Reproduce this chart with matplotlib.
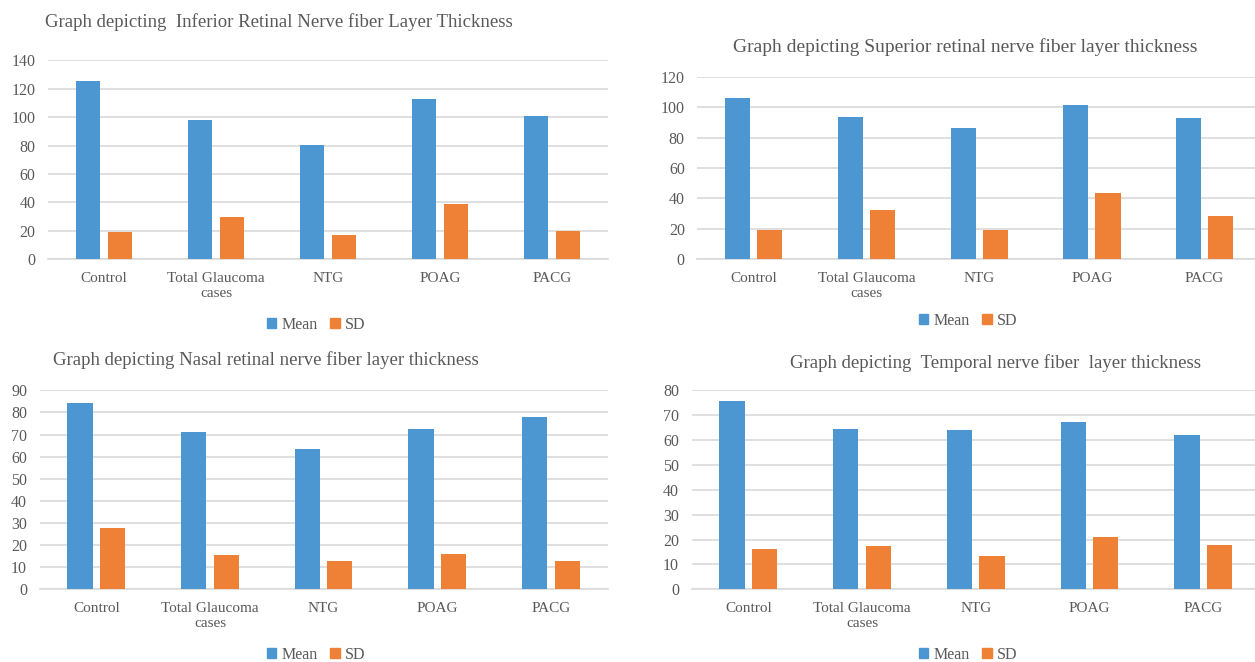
import matplotlib
matplotlib.use('Agg')
import matplotlib.pyplot as plt
from matplotlib.patches import Patch
import numpy as np

plt.rcParams['font.family'] = ['Liberation Serif', 'DejaVu Serif']

categories = ['Control', 'Total Glaucoma\ncases', 'NTG', 'POAG', 'PACG']

inferior_mean = [125.5, 98.3, 80.7, 112.9, 100.7]
inferior_sd = [19.2, 30.0, 16.9, 38.9, 20.2]

superior_mean = [105.8, 93.3, 86.3, 101.6, 92.6]
superior_sd = [19.0, 32.2, 19.0, 43.4, 28.4]

nasal_mean = [84.3, 71.1, 63.3, 72.6, 77.9]
nasal_sd = [27.9, 15.4, 12.9, 15.8, 12.9]

temporal_mean = [75.6, 64.4, 63.9, 67.1, 62.2]
temporal_sd = [16.3, 17.5, 13.3, 20.9, 17.9]

titles = ['Graph depicting  Inferior Retinal Nerve fiber Layer Thickness',
          'Graph depicting Superior retinal nerve fiber layer thickness',
          'Graph depicting Nasal retinal nerve fiber layer thickness',
          'Graph depicting  Temporal nerve fiber  layer thickness']

BLUE = '#4C96D2'
ORANGE = '#EF8137'
TXT = '#595959'
GRID = '#D9D9D9'

W, H = 1255, 662
fig = plt.figure(figsize=(W / 100, H / 100), dpi=100)

def px_axes(left, right, top, bottom):
    return fig.add_axes([left / W, 1 - bottom / H, (right - left) / W, (bottom - top) / H])

# (left, right, top, bottom), ymax, step, title pos, title align, title size, legend pos
panels = [
    ((48, 608, 60.3, 259.3), 140, 20, (45, 22), 'left', 13.5, (316, 325), inferior_mean, inferior_sd),
    ((697.3, 1261, 76.7, 259.3), 120, 20, (965, 47), 'center', 14, (968, 321), superior_mean, superior_sd),
    ((39.5, 607.7, 390.3, 589.3), 90, 10, (53, 360), 'left', 13.5, (316, 655), nasal_mean, nasal_sd),
    ((691.5, 1260, 390.3, 589.3), 80, 10, (995, 363), 'center', 13.5, (968, 655), temporal_mean, temporal_sd),
]

x = np.arange(len(categories))
bw = 0.222
off = 0.143

for i, (box, ymax, step, tpos, talign, tsize, lpos, mean, sd) in enumerate(panels):
    ax = px_axes(*box)
    ax.bar(x - off, mean, bw, color=BLUE, zorder=3, label='Mean')
    ax.bar(x + off, sd, bw, color=ORANGE, zorder=3, label='SD')
    ax.set_xlim(-0.5, len(categories) - 0.5)
    ax.set_ylim(0, ymax)
    ax.set_yticks(np.arange(0, ymax + 1, step))
    ax.set_xticks(x)
    ax.set_xticklabels(categories, linespacing=1.25, fontsize=11)
    ax.yaxis.grid(True, color=GRID, linewidth=1.2, zorder=0)
    for s in ['top', 'right', 'left']:
        ax.spines[s].set_visible(False)
    ax.spines['bottom'].set_color(GRID)
    ax.spines['bottom'].set_linewidth(1.2)
    ax.tick_params(axis='both', length=0, colors=TXT)
    ax.tick_params(axis='y', pad=9, labelsize=11.5)
    ax.tick_params(axis='x', pad=9)

    fig.text(tpos[0] / W, 1 - tpos[1] / H, titles[i], ha=talign, va='center',
             fontsize=tsize, color=TXT)

    handles = [Patch(color=BLUE, label='Mean'), Patch(color=ORANGE, label='SD')]
    fig.legend(handles=handles, loc='center', bbox_to_anchor=(lpos[0] / W, 1 - lpos[1] / H),
               ncol=2, frameon=False, fontsize=11.5, handlelength=0.6, handleheight=0.6,
               handletextpad=0.3, columnspacing=0.8, labelcolor=TXT)

fig.savefig('out.png', dpi=100, facecolor='white')
